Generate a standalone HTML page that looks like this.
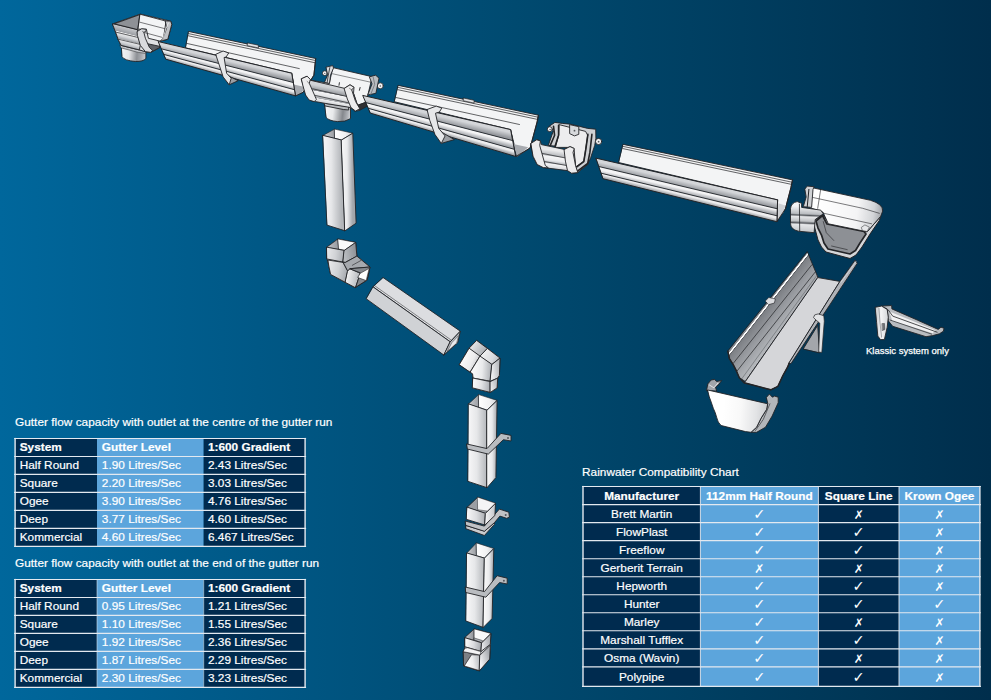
<!DOCTYPE html>
<html lang="en"><head><meta charset="utf-8"><title>Rainwater system – gutter flow capacity and compatibility chart</title>
<style>
html,body{margin:0;padding:0}
body{width:991px;height:700px;overflow:hidden;background:#004a70;font-family:"Liberation Sans",Arial,Helvetica,sans-serif;font-size:11.8px;color:#fff}
#page{position:relative;width:991px;height:700px;overflow:hidden;
 background:linear-gradient(90deg,#00679c 0%,#005886 26%,#004a70 52%,#003656 87%,#002e4c 100%)}
#dg{position:absolute;left:0;top:0}
.t{position:absolute;white-space:nowrap;line-height:14px;height:14px;font-size:11.8px;color:#fff;-webkit-text-stroke:.2px #fff;letter-spacing:.03px}
.t.b{font-weight:bold}
.t.c{text-align:center}
.t.ck{font-family:"DejaVu Sans",sans-serif;font-size:14.5px;-webkit-text-stroke:0;letter-spacing:0}
.t.cr{font-family:"DejaVu Sans",sans-serif;font-size:12px;-webkit-text-stroke:0;letter-spacing:0}
.cap{position:absolute;white-space:nowrap;line-height:12px;font-size:9.5px;color:#fff;-webkit-text-stroke:.25px #fff}

</style></head>
<body>
<div id="page">
<svg id="dg" width="991" height="700" viewBox="0 0 991 700" stroke-linejoin="round" stroke-linecap="round">
<defs><linearGradient id="g1" gradientUnits="userSpaceOnUse" x1="121.6" y1="53.4" x2="146.4" y2="55.5"><stop offset="0" stop-color="#f4f4f5"/><stop offset="0.3" stop-color="#e6e7e9"/><stop offset="0.62" stop-color="#8d9095"/><stop offset="0.8" stop-color="#a9acb1"/><stop offset="1" stop-color="#d0d2d5"/></linearGradient><linearGradient id="g2" gradientUnits="userSpaceOnUse" x1="126.7" y1="26.7" x2="121.6" y2="46.9"><stop offset="0" stop-color="#f5f5f6"/><stop offset="0.06" stop-color="#c3c5c9"/><stop offset="0.3" stop-color="#9c9fa4"/><stop offset="0.33" stop-color="#f1f1f2"/><stop offset="0.5" stop-color="#d4d6d9"/><stop offset="0.63" stop-color="#a3a6ab"/><stop offset="0.66" stop-color="#efeff0"/><stop offset="0.8" stop-color="#cfd1d4"/><stop offset="0.93" stop-color="#a3a6ab"/><stop offset="1" stop-color="#9c9fa4"/></linearGradient><linearGradient id="g3" gradientUnits="userSpaceOnUse" x1="225.1" y1="57.4" x2="223.4" y2="64.7"><stop offset="0" stop-color="#d4d6d9"/><stop offset="0.35" stop-color="#d4d6d9"/><stop offset="1" stop-color="#96999e"/></linearGradient><linearGradient id="g4" gradientUnits="userSpaceOnUse" x1="227.5" y1="65.7" x2="226.0" y2="71.3"><stop offset="0" stop-color="#f4f4f5"/><stop offset="0.35" stop-color="#f4f4f5"/><stop offset="1" stop-color="#a6a9ae"/></linearGradient><linearGradient id="g5" gradientUnits="userSpaceOnUse" x1="229.3" y1="72.1" x2="228.0" y2="76.8"><stop offset="0" stop-color="#eeeeef"/><stop offset="0.35" stop-color="#eeeeef"/><stop offset="1" stop-color="#999ca1"/></linearGradient><linearGradient id="g6" gradientUnits="userSpaceOnUse" x1="325.3" y1="111.5" x2="351.0" y2="114.5"><stop offset="0" stop-color="#f4f4f5"/><stop offset="0.3" stop-color="#e9eaec"/><stop offset="0.68" stop-color="#85888d"/><stop offset="0.85" stop-color="#a9acb1"/><stop offset="1" stop-color="#d4d6d9"/></linearGradient><linearGradient id="g7" gradientUnits="userSpaceOnUse" x1="328.3" y1="84.3" x2="324.3" y2="105.5"><stop offset="0" stop-color="#d4d6d9"/><stop offset="0.15" stop-color="#cfd1d4"/><stop offset="0.4" stop-color="#909398"/><stop offset="0.42" stop-color="#f4f4f5"/><stop offset="0.56" stop-color="#e6e7e9"/><stop offset="0.72" stop-color="#a3a6ab"/><stop offset="0.74" stop-color="#efeff0"/><stop offset="0.86" stop-color="#d4d6d9"/><stop offset="1" stop-color="#96999e"/></linearGradient><linearGradient id="g8" gradientUnits="userSpaceOnUse" x1="436.9" y1="112.5" x2="435.0" y2="120.7"><stop offset="0" stop-color="#d4d6d9"/><stop offset="0.35" stop-color="#d4d6d9"/><stop offset="1" stop-color="#96999e"/></linearGradient><linearGradient id="g9" gradientUnits="userSpaceOnUse" x1="439.4" y1="121.7" x2="437.8" y2="127.9"><stop offset="0" stop-color="#f4f4f5"/><stop offset="0.35" stop-color="#f4f4f5"/><stop offset="1" stop-color="#a6a9ae"/></linearGradient><linearGradient id="g10" gradientUnits="userSpaceOnUse" x1="441.5" y1="128.8" x2="440.0" y2="134.0"><stop offset="0" stop-color="#eeeeef"/><stop offset="0.35" stop-color="#eeeeef"/><stop offset="1" stop-color="#999ca1"/></linearGradient><linearGradient id="g11" gradientUnits="userSpaceOnUse" x1="553.3" y1="147.4" x2="550.3" y2="170.6"><stop offset="0" stop-color="#e2e3e5"/><stop offset="0.12" stop-color="#ececed"/><stop offset="0.36" stop-color="#b3b6ba"/><stop offset="0.4" stop-color="#f6f6f7"/><stop offset="0.56" stop-color="#e9eaec"/><stop offset="0.68" stop-color="#b0b3b8"/><stop offset="0.72" stop-color="#f4f4f5"/><stop offset="0.86" stop-color="#dcdde0"/><stop offset="1" stop-color="#a3a6ab"/></linearGradient><linearGradient id="g12" gradientUnits="userSpaceOnUse" x1="686.9" y1="179.1" x2="685.1" y2="187.0"><stop offset="0" stop-color="#d4d6d9"/><stop offset="0.35" stop-color="#d4d6d9"/><stop offset="1" stop-color="#96999e"/></linearGradient><linearGradient id="g13" gradientUnits="userSpaceOnUse" x1="688.2" y1="187.7" x2="686.8" y2="193.9"><stop offset="0" stop-color="#f4f4f5"/><stop offset="0.35" stop-color="#f4f4f5"/><stop offset="1" stop-color="#a6a9ae"/></linearGradient><linearGradient id="g14" gradientUnits="userSpaceOnUse" x1="689.3" y1="194.5" x2="688.0" y2="199.7"><stop offset="0" stop-color="#eeeeef"/><stop offset="0.35" stop-color="#eeeeef"/><stop offset="1" stop-color="#999ca1"/></linearGradient><linearGradient id="g15" gradientUnits="userSpaceOnUse" x1="818.3" y1="208.3" x2="882.7" y2="217.2"><stop offset="0" stop-color="#ffffff"/><stop offset="0.6" stop-color="#f4f4f5"/><stop offset="0.85" stop-color="#d3d5d8"/><stop offset="1" stop-color="#9c9fa4"/></linearGradient><linearGradient id="g16" gradientUnits="userSpaceOnUse" x1="796.1" y1="206.1" x2="795.0" y2="230.5"><stop offset="0" stop-color="#f4f4f5"/><stop offset="0.3" stop-color="#b9bcc0"/><stop offset="0.36" stop-color="#55585d"/><stop offset="0.42" stop-color="#e6e7e9"/><stop offset="0.6" stop-color="#c0c2c5"/><stop offset="0.68" stop-color="#55585d"/><stop offset="0.74" stop-color="#e6e7e9"/><stop offset="1" stop-color="#c9cbce"/></linearGradient><linearGradient id="g17" gradientUnits="userSpaceOnUse" x1="767.8" y1="301.6" x2="790.5" y2="319.5"><stop offset="0" stop-color="#85888d"/><stop offset="0.035" stop-color="#8d9095"/><stop offset="0.05" stop-color="#ffffff"/><stop offset="0.085" stop-color="#ffffff"/><stop offset="0.1" stop-color="#55585d"/><stop offset="0.13" stop-color="#7d8085"/><stop offset="0.5" stop-color="#96999e"/><stop offset="1" stop-color="#b3b6ba"/></linearGradient><linearGradient id="g18" gradientUnits="userSpaceOnUse" x1="723.3" y1="409.4" x2="767.7" y2="412.7"><stop offset="0" stop-color="#ffffff"/><stop offset="0.4" stop-color="#f8f8f8"/><stop offset="0.75" stop-color="#e2e3e5"/><stop offset="1" stop-color="#c9cbce"/></linearGradient><linearGradient id="g19" gradientUnits="userSpaceOnUse" x1="876.1" y1="322.7" x2="888.3" y2="322.7"><stop offset="0" stop-color="#c9cbce"/><stop offset="0.4" stop-color="#f4f4f5"/><stop offset="1" stop-color="#d4d6d9"/></linearGradient><linearGradient id="g20" gradientUnits="userSpaceOnUse" x1="323.0" y1="135.4" x2="334.6" y2="135.4"><stop offset="0" stop-color="#c9cbce"/><stop offset="1" stop-color="#9c9fa4"/></linearGradient><linearGradient id="g21" gradientUnits="userSpaceOnUse" x1="334.6" y1="129.1" x2="352.8" y2="129.1"><stop offset="0" stop-color="#ffffff"/><stop offset="0.6" stop-color="#f1f1f2"/><stop offset="1" stop-color="#cfd1d4"/></linearGradient><linearGradient id="g22" gradientUnits="userSpaceOnUse" x1="323.0" y1="135.4" x2="341.5" y2="135.4"><stop offset="0" stop-color="#f6f6f7"/><stop offset="0.45" stop-color="#e6e7e9"/><stop offset="1" stop-color="#b3b6ba"/></linearGradient><linearGradient id="g23" gradientUnits="userSpaceOnUse" x1="341.5" y1="140.0" x2="352.8" y2="140.0"><stop offset="0" stop-color="#f8f8f8"/><stop offset="0.5" stop-color="#e9eaec"/><stop offset="1" stop-color="#a3a6ab"/></linearGradient><linearGradient id="g24" gradientUnits="userSpaceOnUse" x1="326.9" y1="249.3" x2="338.6" y2="249.3"><stop offset="0" stop-color="#c3c5c9"/><stop offset="1" stop-color="#96999e"/></linearGradient><linearGradient id="g25" gradientUnits="userSpaceOnUse" x1="327.1" y1="253.9" x2="344.3" y2="256.1"><stop offset="0" stop-color="#e6e7e9"/><stop offset="0.5" stop-color="#d0d2d5"/><stop offset="1" stop-color="#a9acb1"/></linearGradient><linearGradient id="g26" gradientUnits="userSpaceOnUse" x1="344.3" y1="255.0" x2="356.9" y2="252.7"><stop offset="0" stop-color="#b9bcc0"/><stop offset="1" stop-color="#8d9095"/></linearGradient><linearGradient id="g27" gradientUnits="userSpaceOnUse" x1="328.9" y1="267.6" x2="347.7" y2="272.1"><stop offset="0" stop-color="#e6e7e9"/><stop offset="0.5" stop-color="#cfd1d4"/><stop offset="1" stop-color="#a6a9ae"/></linearGradient><linearGradient id="g28" gradientUnits="userSpaceOnUse" x1="347.7" y1="276.7" x2="360.3" y2="279.0"><stop offset="0" stop-color="#ededee"/><stop offset="1" stop-color="#b0b3b8"/></linearGradient><linearGradient id="g29" gradientUnits="userSpaceOnUse" x1="470.9" y1="343.3" x2="485.7" y2="353.6"><stop offset="0" stop-color="#ececed"/><stop offset="0.5" stop-color="#c9cbce"/><stop offset="1" stop-color="#a6a9ae"/></linearGradient><linearGradient id="g30" gradientUnits="userSpaceOnUse" x1="461.7" y1="359.3" x2="477.7" y2="366.1"><stop offset="0" stop-color="#fbfbfb"/><stop offset="0.6" stop-color="#ececed"/><stop offset="1" stop-color="#c3c5c9"/></linearGradient><linearGradient id="g31" gradientUnits="userSpaceOnUse" x1="482.3" y1="353.6" x2="499.4" y2="362.7"><stop offset="0" stop-color="#f1f1f2"/><stop offset="0.6" stop-color="#d9dadd"/><stop offset="1" stop-color="#b0b3b8"/></linearGradient><linearGradient id="g32" gradientUnits="userSpaceOnUse" x1="472.0" y1="370.7" x2="492.0" y2="371.9"><stop offset="0" stop-color="#fbfbfb"/><stop offset="0.5" stop-color="#e9eaec"/><stop offset="1" stop-color="#a9acb1"/></linearGradient><linearGradient id="g33" gradientUnits="userSpaceOnUse" x1="492.0" y1="370.7" x2="500.0" y2="369.6"><stop offset="0" stop-color="#ececed"/><stop offset="1" stop-color="#b3b6ba"/></linearGradient><linearGradient id="g34" gradientUnits="userSpaceOnUse" x1="472.6" y1="384.4" x2="490.3" y2="386.7"><stop offset="0" stop-color="#fbfbfb"/><stop offset="0.5" stop-color="#e2e3e5"/><stop offset="1" stop-color="#a9acb1"/></linearGradient><linearGradient id="g35" gradientUnits="userSpaceOnUse" x1="490.3" y1="386.7" x2="497.7" y2="384.4"><stop offset="0" stop-color="#ececed"/><stop offset="1" stop-color="#b9bcc0"/></linearGradient><linearGradient id="g36" gradientUnits="userSpaceOnUse" x1="468.6" y1="403.9" x2="478.7" y2="403.9"><stop offset="0" stop-color="#c9cbce"/><stop offset="1" stop-color="#9c9fa4"/></linearGradient><linearGradient id="g37" gradientUnits="userSpaceOnUse" x1="478.7" y1="394.6" x2="497.1" y2="394.6"><stop offset="0" stop-color="#ffffff"/><stop offset="0.6" stop-color="#f1f1f2"/><stop offset="1" stop-color="#cfd1d4"/></linearGradient><linearGradient id="g38" gradientUnits="userSpaceOnUse" x1="468.6" y1="403.9" x2="487.0" y2="403.9"><stop offset="0" stop-color="#f6f6f7"/><stop offset="0.45" stop-color="#e6e7e9"/><stop offset="1" stop-color="#b3b6ba"/></linearGradient><linearGradient id="g39" gradientUnits="userSpaceOnUse" x1="487.0" y1="410.2" x2="497.1" y2="410.2"><stop offset="0" stop-color="#f8f8f8"/><stop offset="0.5" stop-color="#e9eaec"/><stop offset="1" stop-color="#a3a6ab"/></linearGradient><linearGradient id="g40" gradientUnits="userSpaceOnUse" x1="467.2" y1="513.3" x2="485.5" y2="513.3"><stop offset="0" stop-color="#f6f6f7"/><stop offset="0.5" stop-color="#dcdde0"/><stop offset="1" stop-color="#a9acb1"/></linearGradient><linearGradient id="g41" gradientUnits="userSpaceOnUse" x1="485.5" y1="513.3" x2="495.5" y2="513.3"><stop offset="0" stop-color="#f4f4f5"/><stop offset="1" stop-color="#c3c5c9"/></linearGradient><linearGradient id="g42" gradientUnits="userSpaceOnUse" x1="466.9" y1="553.0" x2="476.4" y2="553.0"><stop offset="0" stop-color="#c9cbce"/><stop offset="1" stop-color="#9c9fa4"/></linearGradient><linearGradient id="g43" gradientUnits="userSpaceOnUse" x1="476.4" y1="542.9" x2="493.8" y2="542.9"><stop offset="0" stop-color="#ffffff"/><stop offset="0.6" stop-color="#f1f1f2"/><stop offset="1" stop-color="#cfd1d4"/></linearGradient><linearGradient id="g44" gradientUnits="userSpaceOnUse" x1="466.9" y1="553.0" x2="484.5" y2="553.0"><stop offset="0" stop-color="#f6f6f7"/><stop offset="0.45" stop-color="#e6e7e9"/><stop offset="1" stop-color="#b3b6ba"/></linearGradient><linearGradient id="g45" gradientUnits="userSpaceOnUse" x1="484.5" y1="558.1" x2="493.8" y2="558.1"><stop offset="0" stop-color="#f8f8f8"/><stop offset="0.5" stop-color="#e9eaec"/><stop offset="1" stop-color="#a3a6ab"/></linearGradient><linearGradient id="g46" gradientUnits="userSpaceOnUse" x1="465.1" y1="637.4" x2="474.3" y2="637.4"><stop offset="0" stop-color="#c3c5c9"/><stop offset="1" stop-color="#909398"/></linearGradient><linearGradient id="g47" gradientUnits="userSpaceOnUse" x1="465.1" y1="644.3" x2="481.7" y2="646.6"><stop offset="0" stop-color="#fbfbfb"/><stop offset="0.5" stop-color="#dcdde0"/><stop offset="1" stop-color="#a3a6ab"/></linearGradient><linearGradient id="g48" gradientUnits="userSpaceOnUse" x1="481.7" y1="644.3" x2="490.9" y2="642.0"><stop offset="0" stop-color="#e6e7e9"/><stop offset="1" stop-color="#a9acb1"/></linearGradient><linearGradient id="g49" gradientUnits="userSpaceOnUse" x1="466.3" y1="663.7" x2="480.0" y2="661.4"><stop offset="0" stop-color="#ffffff"/><stop offset="0.5" stop-color="#ececed"/><stop offset="1" stop-color="#b9bcc0"/></linearGradient><linearGradient id="g50" gradientUnits="userSpaceOnUse" x1="480.0" y1="661.4" x2="490.3" y2="658.0"><stop offset="0" stop-color="#f4f4f5"/><stop offset="1" stop-color="#a9acb1"/></linearGradient></defs>
<g id="art" style="filter:blur(.4px)">
<g id="outlet-stopend">
<path d="M 121.6,45.4 L 145.9,51.9 L 145.9,58.5 Q 143.3,61.7 135.3,61.5 Q 124.2,60.5 122.2,57.0 Z" fill="url(#g1)" stroke="#232427" stroke-width="0.9"/>
<polygon points="120.1,44.9 139.3,49.9 145.9,51.9 145.4,53.4 138.3,52.4 121.1,47.9" fill="#c3c5c9" stroke="#232427" stroke-width="0.5"/>
<polygon points="113.1,23.7 140.3,14.1 170.6,21.1 171.8,24.2 167.8,39.3 160.0,41.3 160.0,47.4 150.9,52.4 145.9,51.9 139.3,49.9 121.1,45.4 118.1,39.3 115.6,32.2 113.1,25.7" fill="#dfe0e2" stroke="#232427" stroke-width="0.9"/>
<polygon points="113.1,23.7 137.3,29.7 140.3,45.4 139.3,49.9 121.1,45.4 118.1,39.3 115.6,32.2 113.1,25.7" fill="url(#g2)" stroke="#232427" stroke-width="0.9"/>
<polyline points="115.4,32.0 138.1,37.5" fill="none" stroke="#232427" stroke-width="0.7"/>
<polyline points="117.9,39.1 139.3,44.2" fill="none" stroke="#232427" stroke-width="0.7"/>
<polygon points="114.6,23.7 139.8,14.6 137.8,29.2" fill="#8e9196" stroke="#232427" stroke-width="0.9"/>
<polygon points="140.3,14.3 166.0,21.1 163.5,38.3 160.0,41.1 148.4,38.3 146.4,29.2 138.3,29.2" fill="#f3f4f5" stroke="#232427" stroke-width="0.9"/>
<polyline points="139.8,22.2 165.0,28.7" fill="none" stroke="#232427" stroke-width="0.6"/>
<polyline points="144.9,32.7 162.0,37.3" fill="none" stroke="#232427" stroke-width="0.6"/>
<polygon points="147.9,43.8 160.0,46.4 160.0,47.4 150.9,52.2 148.4,49.4" fill="#5e6166" stroke="#232427" stroke-width="0.9"/>
<polygon points="137.3,31.4 141.8,28.7 146.4,29.4 145.6,31.7 143.8,32.2 145.4,38.3 149.4,47.4 152.6,50.4 150.4,52.4 145.4,51.6 140.3,45.4 137.5,35.8" fill="#d9dadd" stroke="#232427" stroke-width="0.9"/>
<polyline points="143.8,32.2 142.5,31.4" fill="none" stroke="#232427" stroke-width="0.5"/>
<polygon points="165.5,20.9 170.6,21.1 171.8,24.2 167.8,39.3 162.3,40.5 164.0,35.3 166.6,28.2" fill="#c0c2c5" stroke="#232427" stroke-width="0.9"/>
<polyline points="162.7,39.8 165.7,29.2 168.4,23.0" fill="none" stroke="#f8f8f8" stroke-width="0.7"/>
</g>
<g id="gutter-1">
<polygon points="188.8,31.5 315.7,58.5 313.9,75.2 303.1,92.3 295.5,95.9 291.7,73.2 185.8,47.9" fill="#f3f4f5" stroke="#232427" stroke-width="0.9"/>
<polyline points="188.5,33.6 315.4,60.5" fill="none" stroke="#232427" stroke-width="0.7"/>
<polyline points="188.3,35.8 315.2,62.8" fill="none" stroke="#232427" stroke-width="0.7"/>
<polyline points="186.8,43.4 299.3,68.6" fill="none" stroke="#232427" stroke-width="0.7"/>
<polygon points="247.6,42.9 258.4,45.2 258.4,47.9 247.6,45.7" fill="#e2e3e5" stroke="#232427" stroke-width="0.7"/>
<polygon points="293.7,84.5 304.8,87.0 301.8,92.8 295.5,95.9" fill="#a7aaaf"/>
<polyline points="291.7,73.2 295.5,95.9 303.1,92.3 313.9,75.2 315.7,58.5" fill="none" stroke="#232427" stroke-width="0.9"/>
<polygon points="158.5,41.6 291.7,73.2 293.3,82.5 161.6,48.9" fill="url(#g3)"/>
<polygon points="161.6,48.9 293.3,82.5 294.5,89.7 164.1,54.5" fill="url(#g4)"/>
<polygon points="164.1,54.5 294.5,89.7 295.5,95.9 166.1,59.3" fill="url(#g5)"/>
<polyline points="161.6,48.9 293.3,82.5" fill="none" stroke="#232427" stroke-width="0.9"/>
<polyline points="164.1,54.5 294.5,89.7" fill="none" stroke="#232427" stroke-width="0.9"/>
<polygon points="158.5,41.6 291.7,73.2 295.5,95.9 166.1,59.3" fill="none" stroke="#232427" stroke-width="1.0"/>
<polygon points="223.1,73.2 238.2,80.7 229.2,84.8 223.6,76.9" fill="#9c9fa4" stroke="#232427" stroke-width="0.9"/>
<polygon points="216.0,54.2 223.1,51.0 228.7,53.0 226.1,57.0 224.1,57.5 226.6,73.2 231.2,78.2 229.2,84.8 223.1,76.9 218.6,63.1" fill="#e6e7e9" stroke="#232427" stroke-width="0.9"/>
</g>
<g id="running-outlet">
<path d="M 324.8,103.4 L 350.5,107.5 L 350.5,118.6 Q 345.5,122.1 337.4,121.6 Q 328.3,120.6 326.3,117.6 Z" fill="url(#g6)" stroke="#232427" stroke-width="0.9"/>
<polygon points="324.3,103.2 348.5,106.7 348.7,110.0 343.4,109.5 325.3,106.0" fill="#b6b9bd" stroke="#232427" stroke-width="0.9"/>
<circle cx="324.8" cy="73.2" r="2.4" fill="#f4f4f5" stroke="#232427" stroke-width="0.8"/>
<circle cx="324.8" cy="73.4" r="0.6" fill="#55585d"/>
<circle cx="380.3" cy="85.8" r="3.0" fill="#f4f4f5" stroke="#232427" stroke-width="0.8"/>
<circle cx="380.3" cy="86.0" r="0.8" fill="#55585d"/>
<polygon points="310.1,80.2 329.3,83.3 332.8,67.6 372.2,76.7 367.9,94.9 365.6,102.4 357.6,105.5 353.5,93.3" fill="#f3f4f5" stroke="#232427" stroke-width="0.9"/>
<polyline points="332.3,73.7 370.7,82.2" fill="none" stroke="#232427" stroke-width="0.5"/>
<polyline points="339.4,82.7 339.0,85.3" fill="none" stroke="#232427" stroke-width="0.9"/>
<polyline points="360.1,87.5 359.4,90.3" fill="none" stroke="#232427" stroke-width="0.9"/>
<polygon points="326.3,67.1 332.8,65.6 333.5,68.1 330.5,75.2 329.5,83.5 324.5,82.4 327.5,75.2" fill="#dcdde0" stroke="#232427" stroke-width="0.9"/>
<polyline points="329.8,67.6 328.3,75.2 327.1,82.7" fill="none" stroke="#232427" stroke-width="0.8"/>
<polygon points="369.7,76.7 375.7,75.2 379.0,78.2 375.9,93.3 367.7,95.0 371.9,84.3" fill="#b9bcc0" stroke="#232427" stroke-width="0.9"/>
<polyline points="373.2,77.2 374.7,84.3 370.7,94.4" fill="none" stroke="#6f7277" stroke-width="0.8"/>
<polygon points="356.6,105.5 365.6,102.4 367.1,106.3 359.6,110.3" fill="#2f3033" stroke="#232427" stroke-width="0.9"/>
<polygon points="301.6,78.7 307.1,76.2 310.1,80.2 344.4,88.3 350.0,84.8 354.0,87.3 353.5,93.3 357.6,105.5 359.6,110.5 354.7,111.1 350.5,107.5 325.3,103.4 315.2,101.6 310.1,100.4 306.1,95.4 304.1,88.3" fill="url(#g7)" stroke="#232427" stroke-width="0.9"/>
<polyline points="312.7,88.8 347.5,96.6" fill="none" stroke="#232427" stroke-width="0.7"/>
<polyline points="315.2,95.4 350.0,103.2" fill="none" stroke="#232427" stroke-width="0.7"/>
<polygon points="301.6,78.7 307.1,76.2 310.3,79.4 309.3,83.3 316.4,99.4 314.2,101.6 309.1,100.0 305.6,95.0 303.1,86.3" fill="#ececed" stroke="#232427" stroke-width="0.9"/>
<polyline points="309.1,83.3 307.1,81.4" fill="none" stroke="#232427" stroke-width="0.5"/>
<polygon points="344.4,88.3 350.0,84.8 354.0,87.3 351.7,89.9 355.5,101.4 359.8,108.7 355.5,111.1 351.0,107.5 347.5,99.4" fill="#ececed" stroke="#232427" stroke-width="0.9"/>
<polyline points="351.7,89.9 349.5,88.3" fill="none" stroke="#232427" stroke-width="0.5"/>
</g>
<g id="gutter-2">
<polygon points="398.4,85.4 538.4,115.2 537.1,122.0 530.1,148.0 517.0,156.5 510.6,129.6 394.6,101.8" fill="#f3f4f5" stroke="#232427" stroke-width="0.9"/>
<polyline points="398.1,87.4 538.1,117.2" fill="none" stroke="#232427" stroke-width="0.7"/>
<polyline points="397.9,89.7 537.9,119.5" fill="none" stroke="#232427" stroke-width="0.7"/>
<polyline points="395.9,97.5 519.5,124.5" fill="none" stroke="#232427" stroke-width="0.7"/>
<polygon points="463.5,98.0 474.1,100.3 474.1,103.1 463.5,100.8" fill="#e2e3e5" stroke="#232427" stroke-width="0.7"/>
<polygon points="513.2,143.9 528.3,147.2 517.0,156.5" fill="#a7aaaf"/>
<polyline points="510.6,129.6 515.7,156.5 530.1,148.0 537.1,122.0 538.4,115.2" fill="none" stroke="#232427" stroke-width="0.9"/>
<polygon points="363.1,95.5 510.6,129.6 512.7,140.6 366.2,102.7" fill="url(#g8)"/>
<polygon points="366.2,102.7 512.7,140.6 514.3,149.3 368.6,108.4" fill="url(#g9)"/>
<polygon points="368.6,108.4 514.3,149.3 515.7,156.5 370.6,113.2" fill="url(#g10)"/>
<polyline points="366.2,102.7 512.7,140.6" fill="none" stroke="#232427" stroke-width="0.9"/>
<polyline points="368.6,108.4 514.3,149.3" fill="none" stroke="#232427" stroke-width="0.9"/>
<polygon points="363.1,95.5 510.6,129.6 515.7,156.5 370.6,113.2" fill="none" stroke="#232427" stroke-width="1.0"/>
<polygon points="435.0,128.3 454.4,139.6 441.3,143.4 435.5,134.6" fill="#9c9fa4" stroke="#232427" stroke-width="0.9"/>
<polygon points="427.4,109.4 436.2,106.1 441.8,108.1 439.3,112.1 435.5,113.2 438.7,128.3 445.1,135.9 441.3,143.4 435.0,134.6 429.9,120.7" fill="#e6e7e9" stroke="#232427" stroke-width="0.9"/>
</g>
<g id="union-bracket">
<polygon points="549.3,126.2 554.9,122.4 562.4,123.4 570.5,124.2 579.6,126.4 587.7,128.4 595.7,129.2 595.9,138.3 594.7,145.4 590.7,157.5 587.7,164.5 577.6,172.6 571.5,169.6 569.5,147.4 548.3,145.4 553.3,131.2" fill="#cfd1d4" stroke="#232427" stroke-width="0.9"/>
<polygon points="559.4,124.7 585.6,131.4 587.7,135.3 583.8,161.5 575.7,166.8 573.5,149.4 569.5,147.4 555.4,147.4 558.6,135.3" fill="#ededee" stroke="#232427" stroke-width="0.9"/>
<polygon points="570.0,124.7 578.8,126.7 578.8,134.3 574.5,135.9 570.0,133.8" fill="#d7d9dc" stroke="#232427" stroke-width="0.9"/>
<circle cx="574.5" cy="130.7" r="0.9" fill="#55585d"/>
<polyline points="553.5,126.2 554.6,135.3 550.3,145.4" fill="none" stroke="#232427" stroke-width="1.6"/>
<polyline points="558.6,125.2 558.6,135.3 555.0,146.6" fill="none" stroke="#232427" stroke-width="1.6"/>
<polyline points="587.9,134.3 585.8,149.4 583.8,161.5 576.8,166.8" fill="none" stroke="#232427" stroke-width="1.6"/>
<polyline points="591.9,134.3 589.9,152.4 587.7,163.5 577.8,170.8" fill="none" stroke="#232427" stroke-width="1.6"/>
<circle cx="549.8" cy="129.2" r="2.5" fill="#f4f4f5" stroke="#232427" stroke-width="0.9"/>
<circle cx="550.1" cy="129.5" r="0.8" fill="#55585d"/>
<circle cx="598.6" cy="141.5" r="3.1" fill="#f4f4f5" stroke="#232427" stroke-width="0.9"/>
<circle cx="598.6" cy="141.7" r="0.9" fill="#55585d"/>
<polygon points="531.1,143.3 536.7,139.8 540.2,140.8 541.4,144.6 564.4,149.4 570.0,146.6 574.0,148.4 575.5,165.5 577.6,172.6 571.5,173.2 567.5,170.6 543.3,167.6 537.2,164.5 533.2,156.5" fill="url(#g11)" stroke="#232427" stroke-width="0.9"/>
<polyline points="542.2,153.4 565.5,158.0" fill="none" stroke="#232427" stroke-width="0.7"/>
<polyline points="544.3,161.5 566.5,165.5" fill="none" stroke="#232427" stroke-width="0.7"/>
<polygon points="531.1,143.3 536.7,139.8 540.4,140.9 539.7,145.4 545.3,165.5 548.3,167.8 543.3,167.6 537.2,164.5 533.2,156.5" fill="#ececed" stroke="#232427" stroke-width="0.9"/>
<polygon points="564.4,149.4 570.0,146.6 574.3,148.6 573.0,152.4 575.5,165.5 577.8,172.6 571.5,173.2 567.5,170.6 565.5,161.5" fill="#ececed" stroke="#232427" stroke-width="0.9"/>
</g>
<g id="gutter-3">
<polygon points="623.3,144.4 792.5,179.9 790.9,187.7 785.4,208.8 776.9,221.7 777.6,199.9 618.9,162.6" fill="#f3f4f5" stroke="#232427" stroke-width="0.9"/>
<polyline points="623.1,146.4 792.0,182.2" fill="none" stroke="#232427" stroke-width="0.7"/>
<polyline points="622.9,148.6 791.6,184.4" fill="none" stroke="#232427" stroke-width="0.7"/>
<polygon points="778.3,203.2 785.4,205.5 783.6,212.1 777.6,219.9" fill="#cfd1d4"/>
<polyline points="777.6,199.9 776.9,221.7 785.4,208.8 790.9,187.7 792.5,179.9" fill="none" stroke="#232427" stroke-width="0.9"/>
<polygon points="596.2,158.2 777.6,199.9 777.3,208.8 599.1,166.6" fill="url(#g12)"/>
<polygon points="599.1,166.6 777.3,208.8 777.1,215.8 601.4,173.3" fill="url(#g13)"/>
<polygon points="601.4,173.3 777.1,215.8 776.9,221.7 603.3,178.8" fill="url(#g14)"/>
<polyline points="599.1,166.6 777.3,208.8" fill="none" stroke="#232427" stroke-width="0.9"/>
<polyline points="601.4,173.3 777.1,215.8" fill="none" stroke="#232427" stroke-width="0.9"/>
<polygon points="596.2,158.2 777.6,199.9 776.9,221.7 603.3,178.8" fill="none" stroke="#232427" stroke-width="1.0"/>
</g>
<g id="corner">
<path d="M 815.0,220.0 L 822.7,214.4 L 829.4,223.8 L 867.1,231.8 L 880.7,216.3 L 879.3,220.5 L 870.0,234.1 L 862.0,247.0 L 856.0,255.0 L 850.0,258.5 L 826.0,252.0 L 821.5,247.0 L 818.0,240.0 L 814.0,224.9 Z" fill="#d4d6d9" stroke="#232427" stroke-width="1.0"/>
<polygon points="816.0,221.0 822.5,215.5 827.0,224.0 864.0,231.5 866.0,234.1 860.0,243.0 855.5,250.5 850.0,254.0 828.0,249.0 824.0,243.0 821.5,235.1 818.0,228.1" fill="#8d9095" stroke="#232427" stroke-width="1.7"/>
<polyline points="823.3,221.6 826.3,232.7 833.8,240.5" fill="none" stroke="#232427" stroke-width="0.6"/>
<polyline points="831.6,246.0 847.2,249.6" fill="none" stroke="#232427" stroke-width="0.6"/>
<path d="M 812.7,187.8 L 870.5,200.3 Q 883.2,204.1 882.7,211.1 L 880.7,216.3 L 867.1,231.8 L 828.3,223.8 L 823.0,212.2 L 810.0,207.7 Z" fill="url(#g15)" stroke="#232427" stroke-width="0.9"/>
<polyline points="811.6,197.2 862.7,208.3 879.3,213.3" fill="none" stroke="#232427" stroke-width="0.6"/>
<polyline points="823.8,213.3 871.6,223.8" fill="none" stroke="#232427" stroke-width="0.6"/>
<polyline points="820.7,189.4 817.7,208.3" fill="none" stroke="#232427" stroke-width="0.6"/>
<polygon points="805.0,188.9 807.2,186.1 814.1,186.7 813.0,189.4 811.6,207.4 803.3,206.7 806.1,197.2" fill="#cfd1d4" stroke="#232427" stroke-width="0.9"/>
<polyline points="808.9,189.4 807.2,207.2" fill="none" stroke="#232427" stroke-width="1"/>
<path d="M 790.5,208.3 Q 791.1,202.7 797.2,201.6 L 801.6,203.3 L 801.6,207.4 L 820.7,210.1 L 823.3,213.8 L 815.2,219.6 L 814.1,232.7 L 798.3,231.2 Q 790.5,229.4 790.5,223.8 Z" fill="url(#g16)" stroke="#232427" stroke-width="0.9"/>
<polyline points="799.4,204.1 799.7,231.1" fill="none" stroke="#232427" stroke-width="0.8"/>
<polygon points="861.6,227.2 864.9,224.9 869.4,227.2 867.1,231.6 862.7,230.5" fill="#e6e7e9" stroke="#232427" stroke-width="0.5"/>
</g>
<g id="gutter-4">
<polygon points="803.4,348.7 817.7,325.3 819.5,352.5" fill="#a3a6ab" stroke="#232427" stroke-width="0.9"/>
<polygon points="807.4,251.9 818.0,277.6 745.3,381.5 739.3,377.7 736.3,370.7 733.2,364.6 729.4,358.6 727.9,351.3" fill="url(#g17)" stroke="#232427" stroke-width="0.9"/>
<polyline points="811.9,264.7 733.2,363.4" fill="none" stroke="#232427" stroke-width="0.7"/>
<polyline points="815.0,272.3 737.3,370.7" fill="none" stroke="#232427" stroke-width="0.7"/>
<polyline points="816.7,275.6 741.6,379.0" fill="none" stroke="#55585d" stroke-width="0.5"/>
<polygon points="818.0,277.6 839.9,281.4 789.0,363.4 787.7,366.9 782.9,375.5 777.9,386.3 770.8,389.8 744.1,382.8 745.3,381.5" fill="#d5d6d9" stroke="#232427" stroke-width="0.9"/>
<polygon points="839.9,281.4 855.1,260.2 857.3,263.2 791.0,363.6 789.0,363.4" fill="#b0b3b8" stroke="#232427" stroke-width="0.9"/>
<polyline points="840.9,282.4 856.1,261.7" fill="none" stroke="#f1f1f2" stroke-width="0.5"/>
<path d="M 727.9,351.3 L 729.4,358.6 L 733.2,364.6 L 736.3,370.7 L 739.3,377.7 L 744.1,382.8 L 770.8,389.8 L 777.9,386.3 L 782.9,375.5 L 787.7,366.9 L 789.0,363.4" fill="none" stroke="#232427" stroke-width="1.5"/>
<polygon points="765.3,301.0 768.8,297.5 775.4,299.0 774.3,303.1 768.8,304.6" fill="#dcdde0" stroke="#232427" stroke-width="0.6"/>
<polygon points="813.7,317.2 814.7,314.9 818.2,313.9 823.8,315.7 824.3,321.2 821.8,352.5 818.7,352.0 819.8,323.2 816.2,320.2" fill="#e2e3e5" stroke="#232427" stroke-width="0.7"/>
</g>
<g id="stop-end">
<polygon points="706.6,390.3 707.8,383.9 711.1,380.0 714.6,379.4 716.6,381.6 721.6,380.5 719.1,384.1 715.5,387.2 716.6,390.8" fill="#a3a6ab" stroke="#232427" stroke-width="0.9"/>
<polyline points="709.4,385.0 713.9,387.8 717.7,383.3" fill="none" stroke="#f4f4f5" stroke-width="0.8"/>
<polygon points="766.6,397.2 769.4,394.1 772.4,397.2 774.6,396.1 778.2,397.2 778.2,402.7 772.1,416.1 765.5,427.2 756.6,432.3 751.0,432.3 756.6,427.2 761.0,418.3 766.6,409.4 767.7,403.8" fill="#b3b6ba" stroke="#232427" stroke-width="0.9"/>
<path d="M 707.8,390.0 L 767.7,403.8 L 766.6,409.4 L 761.0,418.3 L 756.6,427.2 L 751.0,432.3 L 745.5,431.6 L 721.1,425.5 Q 717.7,422.7 716.6,417.2 Q 715.5,412.7 713.3,408.3 Q 711.1,401.6 709.4,397.2 Z" fill="url(#g18)" stroke="#232427" stroke-width="0.9"/>
<polyline points="769.9,403.8 763.3,419.4 755.5,430.5" fill="none" stroke="#232427" stroke-width="0.6"/>
</g>
<g id="klassic-bracket">
<polygon points="881.6,306.1 891.6,305.5 891.9,308.9 917.2,320.0 938.2,329.4 941.0,327.2 944.0,328.3 943.4,331.2 939.4,333.8 932.7,335.6 926.0,336.7 892.7,326.3 888.3,320.8 887.2,309.4" fill="#b9bcc0" stroke="#232427" stroke-width="0.9"/>
<polygon points="889.4,311.6 935.5,330.3 932.7,333.3 892.2,320.8" fill="#f1f1f2"/>
<polyline points="888.3,310.0 892.7,316.1 937.1,332.2" fill="none" stroke="#232427" stroke-width="0.8"/>
<polyline points="890.0,320.0 931.6,334.1" fill="none" stroke="#232427" stroke-width="0.7"/>
<polygon points="875.5,307.2 881.6,306.1 887.2,309.4 888.3,317.2 887.2,327.2 884.4,339.6 880.5,339.6 877.8,336.1 876.6,322.7" fill="url(#g19)" stroke="#232427" stroke-width="0.9"/>
<polyline points="878.9,308.3 880.0,322.7 881.6,337.2" fill="none" stroke="#6f7277" stroke-width="0.6"/>
<polygon points="882.2,323.6 884.5,323.4 884.9,329.6 882.5,330.5" fill="#6f7277" stroke="#232427" stroke-width="0.4"/>
<circle cx="882.7" cy="337.7" r="0.8" fill="#f8f8f8"/>
</g>
<g id="pipe-1">
<polygon points="323.0,135.4 334.6,129.1 334.9,138.3" fill="url(#g20)" stroke="#232427" stroke-width="0.6"/>
<polygon points="334.6,129.1 352.8,133.2 341.5,140.0 334.9,138.3" fill="url(#g21)" stroke="#232427" stroke-width="0.6"/>
<polygon points="323.0,135.4 341.5,140.0 345.0,230.8 327.3,225.2" fill="url(#g22)" stroke="#232427" stroke-width="0.9"/>
<polygon points="341.5,140.0 352.8,133.2 356.1,223.2 345.0,230.8" fill="url(#g23)" stroke="#232427" stroke-width="0.9"/>
</g>
<g id="elbow-1">
<polygon points="326.9,247.2 338.0,239.0 355.7,242.4 356.9,256.1 370.0,267.0 367.1,280.1 355.1,287.6 345.4,282.4 330.6,274.4 328.9,266.4 327.1,259.0" fill="#d0d2d5" stroke="#232427" stroke-width="0.9"/>
<polygon points="326.9,247.2 338.0,239.0 338.8,249.1" fill="url(#g24)" stroke="#232427" stroke-width="0.6"/>
<polygon points="338.0,239.0 355.7,242.4 344.3,250.4 338.8,249.1" fill="#fbfbfb" stroke="#232427" stroke-width="0.6"/>
<polygon points="326.9,247.2 344.3,250.4 343.1,262.1 327.1,259.0" fill="url(#g25)" stroke="#232427" stroke-width="0.9"/>
<polygon points="344.3,250.4 355.7,242.4 356.9,256.1 345.4,262.4 343.1,262.1" fill="url(#g26)" stroke="#232427" stroke-width="0.9"/>
<polygon points="328.3,260.1 343.1,262.4 347.7,271.0 345.4,282.4 330.6,274.4 328.9,266.4" fill="url(#g27)" stroke="#232427" stroke-width="0.9"/>
<polygon points="345.4,262.4 356.9,256.1 370.0,267.0 350.0,268.7 347.7,271.0 343.1,262.4" fill="#a6a9ae" stroke="#232427" stroke-width="0.9"/>
<polyline points="352.3,265.3 360.9,260.5" fill="none" stroke="#232427" stroke-width="0.6"/>
<polygon points="347.7,271.0 350.0,268.7 360.3,273.3 355.7,287.2 355.1,287.6 345.4,282.4" fill="url(#g28)" stroke="#232427" stroke-width="0.9"/>
<polygon points="350.0,268.7 370.0,267.0 367.1,280.1 355.1,287.6 355.7,287.2 360.3,273.3" fill="#85888d" stroke="#232427" stroke-width="0.9"/>
<polygon points="360.3,273.3 369.2,268.3 366.2,280.6 358.0,277.6" fill="#ffffff" stroke="#232427" stroke-width="0.6"/>
</g>
<g id="pipe-diagonal">
<polygon points="383.3,277.7 460.3,331.2 450.2,341.8 373.2,287.0" fill="#dcdde0" stroke="#232427" stroke-width="0.9"/>
<polygon points="373.2,287.0 450.2,341.8 443.9,355.1 366.4,298.9" fill="#d0d2d5" stroke="#232427" stroke-width="0.9"/>
<polygon points="450.2,341.8 460.3,331.2 457.8,342.5 443.9,355.1" fill="#b6b9bd" stroke="#232427" stroke-width="0.9"/>
<polygon points="452.0,342.5 458.5,335.7 456.5,343.3 447.7,350.9" fill="#e9eaec" stroke="#232427" stroke-width="0.4"/>
<polyline points="374.8,285.8 451.5,340.3" fill="none" stroke="#232427" stroke-width="0.5"/>
</g>
<g id="elbow-2">
<polygon points="459.4,364.4 469.1,348.2 476.6,340.4 487.4,348.4 500.0,358.1 499.4,375.3 497.7,378.1 497.1,387.9 490.3,392.4 472.6,387.9 473.1,378.1 472.6,374.1 470.3,371.9" fill="#dcdde0" stroke="#232427" stroke-width="0.9"/>
<polygon points="469.1,348.2 476.6,340.4 487.4,348.4 480.0,356.1" fill="url(#g29)" stroke="#232427" stroke-width="0.9"/>
<polygon points="459.4,364.4 469.1,348.2 480.0,356.1 470.3,371.9" fill="url(#g30)" stroke="#232427" stroke-width="0.9"/>
<polygon points="480.0,356.1 487.4,348.4 500.0,358.1 492.0,364.4" fill="url(#g31)" stroke="#232427" stroke-width="0.9"/>
<polygon points="470.3,371.9 480.0,356.1 492.0,364.4 490.3,381.2 473.1,378.1 472.6,374.1" fill="url(#g32)" stroke="#232427" stroke-width="0.9"/>
<polygon points="492.0,364.4 500.0,358.1 499.4,375.3 497.7,378.1 490.3,381.2" fill="url(#g33)" stroke="#232427" stroke-width="0.9"/>
<polygon points="473.1,378.1 490.3,381.6 490.3,392.4 472.6,387.9" fill="url(#g34)" stroke="#232427" stroke-width="0.9"/>
<polygon points="490.3,381.6 497.7,378.1 497.1,387.9 490.3,392.4" fill="url(#g35)" stroke="#232427" stroke-width="0.9"/>
</g>
<g id="pipe-2">
<polygon points="468.6,403.9 478.7,394.6 479.0,407.4" fill="url(#g36)" stroke="#232427" stroke-width="0.6"/>
<polygon points="478.7,394.6 497.1,400.4 487.0,410.2 479.0,407.4" fill="url(#g37)" stroke="#232427" stroke-width="0.6"/>
<polygon points="468.6,403.9 487.0,410.2 487.0,487.7 468.1,481.4" fill="url(#g38)" stroke="#232427" stroke-width="0.9"/>
<polygon points="487.0,410.2 497.1,400.4 495.9,477.6 487.0,487.7" fill="url(#g39)" stroke="#232427" stroke-width="0.9"/>
<polygon points="466.9,444.0 487.0,448.6 500.9,433.4 511.0,435.4 511.0,441.0 503.4,439.7 488.3,454.1 467.6,449.1" fill="#b9bcc0" stroke="#232427" stroke-width="0.9"/>
<circle cx="508.0" cy="438.0" r="1.0" fill="#55585d"/>
</g>
<g id="connector">
<polygon points="466.1,525.5 484.4,531.1 494.4,522.7 494.4,524.4 484.4,535.5 466.1,528.8" fill="#c9cbce" stroke="#232427" stroke-width="0.9"/>
<polygon points="465.5,521.1 484.4,526.1 499.4,509.1 508.8,512.2 509.4,517.2 506.6,518.3 499.9,516.1 494.4,522.7 484.4,531.3 466.1,525.5" fill="#c0c2c5" stroke="#232427" stroke-width="0.9"/>
<circle cx="505.7" cy="515.0" r="1.0" fill="#55585d"/>
<polygon points="467.2,507.2 477.7,497.2 495.5,503.3 485.5,513.3" fill="#9c9fa4" stroke="#232427" stroke-width="0.9"/>
<polygon points="477.7,497.2 495.5,503.3 487.7,511.1 478.0,509.7" fill="#f4f4f5" stroke="#232427" stroke-width="0.4"/>
<polygon points="467.2,507.2 485.5,513.3 484.9,525.0 466.6,519.4" fill="url(#g40)" stroke="#232427" stroke-width="0.9"/>
<polygon points="485.5,513.3 495.5,503.3 494.9,515.5 484.9,525.0" fill="url(#g41)" stroke="#232427" stroke-width="0.9"/>
</g>
<g id="pipe-3">
<polygon points="466.9,553.0 476.4,542.9 476.7,555.8" fill="url(#g42)" stroke="#232427" stroke-width="0.6"/>
<polygon points="476.4,542.9 493.8,548.5 484.5,558.1 476.7,555.8" fill="url(#g43)" stroke="#232427" stroke-width="0.6"/>
<polygon points="466.9,553.0 484.5,558.1 483.2,627.4 466.1,621.1" fill="url(#g44)" stroke="#232427" stroke-width="0.9"/>
<polygon points="484.5,558.1 493.8,548.5 492.1,618.6 483.2,627.4" fill="url(#g45)" stroke="#232427" stroke-width="0.9"/>
<polygon points="465.6,587.1 484.5,591.6 497.1,575.7 507.2,578.2 507.2,584.0 499.6,582.5 485.8,597.2 466.1,592.6" fill="#b9bcc0" stroke="#232427" stroke-width="0.9"/>
<circle cx="503.9" cy="580.8" r="1.0" fill="#55585d"/>
</g>
<g id="shoe">
<polygon points="465.1,637.4 474.3,628.9 490.9,633.4 490.3,644.3 489.7,659.1 479.4,670.8 464.0,666.0 463.4,651.7 465.1,646.6" fill="#d4d6d9" stroke="#232427" stroke-width="0.9"/>
<polygon points="465.1,637.4 474.3,628.9 474.3,639.9" fill="url(#g46)" stroke="#232427" stroke-width="0.6"/>
<polygon points="474.3,628.9 490.9,633.4 481.7,642.8 474.3,639.9" fill="#f8f8f8" stroke="#232427" stroke-width="0.6"/>
<polygon points="474.3,638.0 482.5,640.6 481.7,642.8 474.3,639.9" fill="#b0b3b8" stroke="#232427" stroke-width="0.5"/>
<polygon points="465.1,637.8 481.7,642.8 481.1,651.4 465.1,646.8" fill="url(#g47)" stroke="#232427" stroke-width="0.9"/>
<polygon points="481.7,642.8 490.9,633.7 490.3,644.3 481.1,651.4" fill="url(#g48)" stroke="#232427" stroke-width="0.9"/>
<polygon points="463.4,651.7 480.0,655.1 479.4,670.8 464.0,666.0" fill="#7d8085" stroke="#232427" stroke-width="0.9"/>
<polygon points="471.8,654.8 480.0,655.1 479.4,670.6 464.6,666.0" fill="url(#g49)" stroke="#232427" stroke-width="0.6"/>
<polygon points="465.1,648.3 467.4,647.7 480.9,651.6 480.0,655.1 463.4,651.7" fill="#f4f4f5" stroke="#232427" stroke-width="0.6"/>
<polygon points="480.0,655.1 490.3,645.2 489.7,659.1 479.4,670.8" fill="url(#g50)" stroke="#232427" stroke-width="0.9"/>
</g>
</g>
<g id="tables" shape-rendering="geometricPrecision">
<rect x="15.10" y="438.50" width="81.90" height="107.80" fill="#002b4f"/>
<rect x="97.00" y="438.50" width="106.70" height="107.80" fill="#5ca5dc"/>
<rect x="203.70" y="438.50" width="101.40" height="107.80" fill="#002b4f"/>
<path d="M14.60 438.50H305.60M14.60 456.50H305.60M14.60 474.45H305.60M14.60 492.40H305.60M14.60 510.40H305.60M14.60 528.40H305.60M14.60 546.30H305.60" stroke="#e3e9f0" stroke-width="1.2" fill="none"/>
<path d="M15.10 438.50V546.30M305.10 438.50V546.30" stroke="#e3e9f0" stroke-width="1.4" fill="none"/>
<rect x="15.10" y="579.50" width="81.90" height="107.80" fill="#002b4f"/>
<rect x="97.00" y="579.50" width="106.70" height="107.80" fill="#5ca5dc"/>
<rect x="203.70" y="579.50" width="101.40" height="107.80" fill="#002b4f"/>
<path d="M14.60 579.50H305.60M14.60 597.50H305.60M14.60 615.45H305.60M14.60 633.40H305.60M14.60 651.40H305.60M14.60 669.40H305.60M14.60 687.30H305.60" stroke="#e3e9f0" stroke-width="1.2" fill="none"/>
<path d="M15.10 579.50V687.30M305.10 579.50V687.30" stroke="#e3e9f0" stroke-width="1.4" fill="none"/>
<path d="M97.00 579.50V687.30M203.70 579.50V687.30" stroke="#e3e9f0" stroke-width="1" stroke-opacity="0.55" fill="none"/>
<rect x="583.00" y="486.50" width="117.40" height="199.90" fill="#002b4f"/>
<rect x="700.40" y="486.50" width="118.00" height="199.90" fill="#5ca5dc"/>
<rect x="818.40" y="486.50" width="80.60" height="199.90" fill="#002b4f"/>
<rect x="899.00" y="486.50" width="80.90" height="199.90" fill="#5ca5dc"/>
<path d="M582.50 486.50H980.40M582.50 504.70H980.40M582.50 522.71H980.40M582.50 540.72H980.40M582.50 558.73H980.40M582.50 576.74H980.40M582.50 594.75H980.40M582.50 612.76H980.40M582.50 630.77H980.40M582.50 648.78H980.40M582.50 666.79H980.40M582.50 686.40H980.40" stroke="#e3e9f0" stroke-width="1.2" fill="none"/>
<path d="M583.00 486.50V686.40M979.90 486.50V686.40" stroke="#e3e9f0" stroke-width="1.4" fill="none"/>
<path d="M700.40 486.50V686.40M818.40 486.50V686.40M899.00 486.50V686.40" stroke="#e3e9f0" stroke-width="1" stroke-opacity="0.9" fill="none"/>
</g>
</svg>

<div class="cap" style="left:866px;top:345px">Klassic system only</div>
<section id="flow-centre">
<div class="t" style="left:15px;top:415px">Gutter flow capacity with outlet at the centre of the gutter run</div>
<div class="t b" style="left:19.7px;top:440px">System</div>
<div class="t b" style="left:101.8px;top:440px">Gutter Level</div>
<div class="t b" style="left:207.9px;top:440px">1:600 Gradient</div>
<div class="t" style="left:19.7px;top:458px">Half Round</div>
<div class="t" style="left:101.8px;top:458px">1.90 Litres/Sec</div>
<div class="t" style="left:207.9px;top:458px">2.43 Litres/Sec</div>
<div class="t" style="left:19.7px;top:476px">Square</div>
<div class="t" style="left:101.8px;top:476px">2.20 Litres/Sec</div>
<div class="t" style="left:207.9px;top:476px">3.03 Litres/Sec</div>
<div class="t" style="left:19.7px;top:494px">Ogee</div>
<div class="t" style="left:101.8px;top:494px">3.90 Litres/Sec</div>
<div class="t" style="left:207.9px;top:494px">4.76 Litres/Sec</div>
<div class="t" style="left:19.7px;top:512px">Deep</div>
<div class="t" style="left:101.8px;top:512px">3.77 Litres/Sec</div>
<div class="t" style="left:207.9px;top:512px">4.60 Litres/Sec</div>
<div class="t" style="left:19.7px;top:530px">Kommercial</div>
<div class="t" style="left:101.8px;top:530px">4.60 Litres/Sec</div>
<div class="t" style="left:207.9px;top:530px">6.467 Litres/Sec</div>
</section>
<section id="flow-end">
<div class="t" style="left:15px;top:556px">Gutter flow capacity with outlet at the end of the gutter run</div>
<div class="t b" style="left:19.7px;top:581px">System</div>
<div class="t b" style="left:101.8px;top:581px">Gutter Level</div>
<div class="t b" style="left:207.9px;top:581px">1:600 Gradient</div>
<div class="t" style="left:19.7px;top:599px">Half Round</div>
<div class="t" style="left:101.8px;top:599px">0.95 Litres/Sec</div>
<div class="t" style="left:207.9px;top:599px">1.21 Litres/Sec</div>
<div class="t" style="left:19.7px;top:617px">Square</div>
<div class="t" style="left:101.8px;top:617px">1.10 Litres/Sec</div>
<div class="t" style="left:207.9px;top:617px">1.55 Litres/Sec</div>
<div class="t" style="left:19.7px;top:635px">Ogee</div>
<div class="t" style="left:101.8px;top:635px">1.92 Litres/Sec</div>
<div class="t" style="left:207.9px;top:635px">2.36 Litres/Sec</div>
<div class="t" style="left:19.7px;top:653px">Deep</div>
<div class="t" style="left:101.8px;top:653px">1.87 Litres/Sec</div>
<div class="t" style="left:207.9px;top:653px">2.29 Litres/Sec</div>
<div class="t" style="left:19.7px;top:671px">Kommercial</div>
<div class="t" style="left:101.8px;top:671px">2.30 Litres/Sec</div>
<div class="t" style="left:207.9px;top:671px">3.23 Litres/Sec</div>
</section>
<section id="compatibility">
<div class="t" style="left:582px;top:465px">Rainwater Compatibility Chart</div>
<div class="t c b" style="left:583.0px;width:117.39999999999998px;top:489px">Manufacturer</div>
<div class="t c b" style="left:700.4px;width:118.0px;top:489px">112mm Half Round</div>
<div class="t c b" style="left:818.4px;width:80.60000000000002px;top:489px">Square Line</div>
<div class="t c b" style="left:899.0px;width:80.89999999999998px;top:489px">Krown Ogee</div>
<div class="t c" style="left:583.0px;width:117.39999999999998px;top:507px">Brett Martin</div>
<div class="t c ck" style="left:700.4px;width:118.0px;top:507px">✓</div>
<div class="t c cr" style="left:818.4px;width:80.60000000000002px;top:508px">✗</div>
<div class="t c cr" style="left:899.0px;width:80.89999999999998px;top:508px">✗</div>
<div class="t c" style="left:583.0px;width:117.39999999999998px;top:525px">FlowPlast</div>
<div class="t c ck" style="left:700.4px;width:118.0px;top:525px">✓</div>
<div class="t c ck" style="left:818.4px;width:80.60000000000002px;top:525px">✓</div>
<div class="t c cr" style="left:899.0px;width:80.89999999999998px;top:526px">✗</div>
<div class="t c" style="left:583.0px;width:117.39999999999998px;top:543px">Freeflow</div>
<div class="t c ck" style="left:700.4px;width:118.0px;top:543px">✓</div>
<div class="t c ck" style="left:818.4px;width:80.60000000000002px;top:543px">✓</div>
<div class="t c cr" style="left:899.0px;width:80.89999999999998px;top:544px">✗</div>
<div class="t c" style="left:583.0px;width:117.39999999999998px;top:561px">Gerberit Terrain</div>
<div class="t c cr" style="left:700.4px;width:118.0px;top:562px">✗</div>
<div class="t c cr" style="left:818.4px;width:80.60000000000002px;top:562px">✗</div>
<div class="t c cr" style="left:899.0px;width:80.89999999999998px;top:562px">✗</div>
<div class="t c" style="left:583.0px;width:117.39999999999998px;top:579px">Hepworth</div>
<div class="t c ck" style="left:700.4px;width:118.0px;top:579px">✓</div>
<div class="t c ck" style="left:818.4px;width:80.60000000000002px;top:579px">✓</div>
<div class="t c cr" style="left:899.0px;width:80.89999999999998px;top:580px">✗</div>
<div class="t c" style="left:583.0px;width:117.39999999999998px;top:597px">Hunter</div>
<div class="t c ck" style="left:700.4px;width:118.0px;top:597px">✓</div>
<div class="t c ck" style="left:818.4px;width:80.60000000000002px;top:597px">✓</div>
<div class="t c ck" style="left:899.0px;width:80.89999999999998px;top:597px">✓</div>
<div class="t c" style="left:583.0px;width:117.39999999999998px;top:615px">Marley</div>
<div class="t c ck" style="left:700.4px;width:118.0px;top:615px">✓</div>
<div class="t c cr" style="left:818.4px;width:80.60000000000002px;top:616px">✗</div>
<div class="t c cr" style="left:899.0px;width:80.89999999999998px;top:616px">✗</div>
<div class="t c" style="left:583.0px;width:117.39999999999998px;top:633px">Marshall Tufflex</div>
<div class="t c ck" style="left:700.4px;width:118.0px;top:633px">✓</div>
<div class="t c ck" style="left:818.4px;width:80.60000000000002px;top:633px">✓</div>
<div class="t c cr" style="left:899.0px;width:80.89999999999998px;top:634px">✗</div>
<div class="t c" style="left:583.0px;width:117.39999999999998px;top:651px">Osma (Wavin)</div>
<div class="t c ck" style="left:700.4px;width:118.0px;top:651px">✓</div>
<div class="t c cr" style="left:818.4px;width:80.60000000000002px;top:652px">✗</div>
<div class="t c cr" style="left:899.0px;width:80.89999999999998px;top:652px">✗</div>
<div class="t c" style="left:583.0px;width:117.39999999999998px;top:670px">Polypipe</div>
<div class="t c ck" style="left:700.4px;width:118.0px;top:670px">✓</div>
<div class="t c ck" style="left:818.4px;width:80.60000000000002px;top:670px">✓</div>
<div class="t c cr" style="left:899.0px;width:80.89999999999998px;top:671px">✗</div>
</section>
</div>
</body></html>
